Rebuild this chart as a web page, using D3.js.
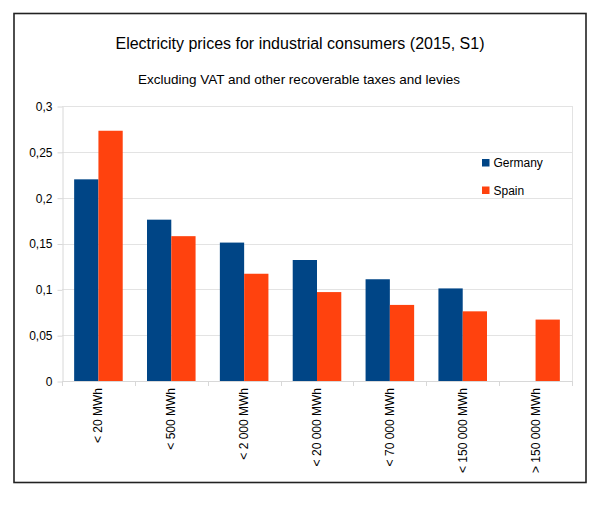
<!DOCTYPE html>
<html>
<head>
<meta charset="utf-8">
<script src="https://cdn.jsdelivr.net/npm/d3@7"></script>
<style>
  body { margin: 0; background: #fff; }
  text { font-family: "Liberation Sans", Arial, sans-serif; fill: #000; }
</style>
</head>
<body>
<div id="chart"></div>
<script>
// data (EUR/kWh)
const categories = ['< 20 MWh', '< 500 MWh', '< 2 000 MWh', '< 20 000 MWh', '< 70 000 MWh', '< 150 000 MWh', '> 150 000 MWh'];
const germany = [0.22, 0.176, 0.151, 0.132, 0.111, 0.101, null];
const spain = [0.273, 0.158, 0.117, 0.097, 0.083, 0.076, 0.067];
const seriesNames = ['Germany', 'Spain'];
const yTicks = [0, 0.05, 0.1, 0.15, 0.2, 0.25, 0.3];

const colors = { Germany: '#004586', Spain: '#ff420e' };

const width = 593, height = 505;
const plot = { left: 62, right: 572, top: 106, bottom: 381 };

const svg = d3.select('#chart').append('svg')
    .attr('width', width)
    .attr('height', height);

// outer frame
svg.append('rect')
    .attr('x', 14).attr('y', 13.5)
    .attr('width', 572).attr('height', 469)
    .attr('fill', 'none')
    .attr('stroke', '#222')
    .attr('stroke-width', 1.6);

svg.append('text')
    .attr('x', 300).attr('y', 49)
    .attr('text-anchor', 'middle')
    .style('font-size', '16px')
    .text('Electricity prices for industrial consumers (2015, S1)');

svg.append('text')
    .attr('x', 299).attr('y', 84)
    .attr('text-anchor', 'middle')
    .style('font-size', '13.5px')
    .text('Excluding VAT and other recoverable taxes and levies');

const x = d3.scaleBand()
    .domain(categories)
    .range([plot.left, plot.right]);

const xInner = d3.scaleBand()
    .domain(seriesNames)
    .range([0, x.bandwidth()])
    .paddingOuter(0.5)
    .paddingInner(0);

const y = d3.scaleLinear()
    .domain([0, 0.3])
    .range([plot.bottom, plot.top]);

// gridlines
svg.append('g')
    .selectAll('line')
    .data(yTicks)
    .enter().append('line')
    .attr('x1', plot.left).attr('x2', plot.right)
    .attr('y1', d => Math.round(y(d)) + 0.5)
    .attr('y2', d => Math.round(y(d)) + 0.5)
    .attr('stroke', '#e3e3e3');

// right border of plot
svg.append('line')
    .attr('x1', plot.right + 0.5).attr('x2', plot.right + 0.5)
    .attr('y1', plot.top).attr('y2', plot.bottom)
    .attr('stroke', '#e3e3e3');

// y axis
const yAxis = svg.append('g')
    .attr('transform', `translate(${plot.left + 0.5},0.5)`)
    .call(d3.axisLeft(y).tickValues(yTicks).tickSize(5).tickSizeOuter(0)
        .tickFormat(d => d3.format('~g')(d).replace('.', ',')));
yAxis.select('.domain').attr('stroke', '#d8d8d8');
yAxis.selectAll('.tick line').attr('stroke', '#d8d8d8');
yAxis.selectAll('.tick text')
    .attr('x', -10)
    .style('font-size', '12px')
    .style('font-family', '"Liberation Sans", Arial, sans-serif')
    .attr('fill', '#000');

// x axis: ticks on category boundaries
const bounds = categories.map(c => x(c)).concat([plot.right]);
svg.append('line')
    .attr('x1', plot.left).attr('x2', plot.right)
    .attr('y1', plot.bottom + 0.5).attr('y2', plot.bottom + 0.5)
    .attr('stroke', '#d8d8d8');
svg.append('g')
    .selectAll('line')
    .data(bounds)
    .enter().append('line')
    .attr('x1', d => Math.round(d) + 0.5).attr('x2', d => Math.round(d) + 0.5)
    .attr('y1', plot.bottom).attr('y2', plot.bottom + 5)
    .attr('stroke', '#d8d8d8');

svg.append('g')
    .selectAll('text')
    .data(categories)
    .enter().append('text')
    .attr('transform', d => `translate(${x(d) + x.bandwidth() / 2 + 4},${plot.bottom + 7}) rotate(-90)`)
    .attr('text-anchor', 'end')
    .style('font-size', '12px')
    .text(d => d);

// bars
const rows = categories.map((c, i) => ({ cat: c, Germany: germany[i], Spain: spain[i] }));
const groups = svg.append('g')
    .selectAll('g')
    .data(rows)
    .enter().append('g')
    .attr('transform', d => `translate(${x(d.cat)},0)`);

groups.selectAll('rect')
    .data(d => seriesNames.map(s => ({ key: s, value: d[s] })).filter(d => d.value != null))
    .enter().append('rect')
    .attr('x', d => xInner(d.key))
    .attr('width', xInner.bandwidth())
    .attr('y', d => y(d.value))
    .attr('height', d => y(0) - y(d.value))
    .attr('fill', d => colors[d.key]);

// legend
const legend = svg.append('g')
    .selectAll('g')
    .data(seriesNames)
    .enter().append('g')
    .attr('transform', (d, i) => `translate(482,${159 + i * 27.5})`);
legend.append('rect')
    .attr('width', 7.5).attr('height', 7.5)
    .attr('fill', d => colors[d]);
legend.append('text')
    .attr('x', 11.5).attr('y', 8)
    .style('font-size', '12px')
    .text(d => d);
</script>
</body>
</html>
